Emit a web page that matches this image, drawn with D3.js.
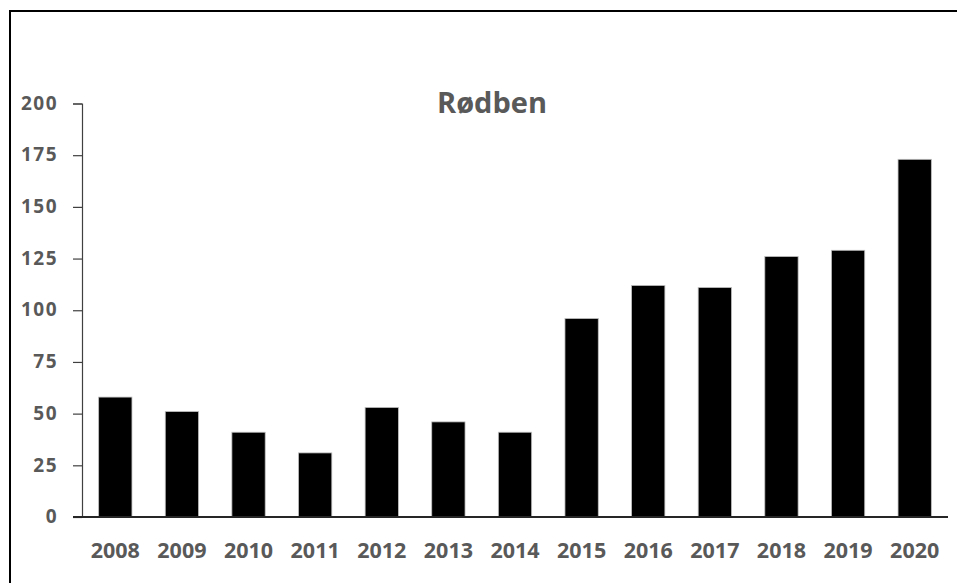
<!DOCTYPE html>
<html>
<head>
<meta charset="utf-8">
<script src="https://cdn.jsdelivr.net/npm/d3@7"></script>
<style>
  html, body { margin: 0; padding: 0; background: #fff; }
  svg { display: block; }
  text { font-family: "Open Sans", "Liberation Sans", sans-serif; font-weight: 700; fill: #595959; }
</style>
</head>
<body>
<svg id="chart" width="957" height="583"></svg>
<script>
// Annual counts of Rødben (common redshank)
const years = ["2008","2009","2010","2011","2012","2013","2014","2015","2016","2017","2018","2019","2020"];
const counts = [58, 51, 41, 31, 53, 46, 41, 96, 112, 111, 126, 129, 173];
const yTicks = [0, 25, 50, 75, 100, 125, 150, 175, 200];
const title = "Rødben";

const svg = d3.select("#chart");
const W = 957, H = 583;
const margin = { left: 82, right: 9, top: 103.5, bottom: 66 };

// Outer frame of the chart box
svg.append("rect")
  .attr("x", 10).attr("y", 11)
  .attr("width", W).attr("height", H)
  .attr("fill", "none")
  .attr("stroke", "#000")
  .attr("stroke-width", 2);

const x = d3.scaleBand()
  .domain(years)
  .range([margin.left, W - margin.right])
  .paddingInner(0.5)
  .paddingOuter(0.25);

const y = d3.scaleLinear()
  .domain([0, 200])
  .range([H - margin.bottom, margin.top]);

// Bars
svg.append("g")
  .selectAll("rect")
  .data(years.map((yr, i) => ({ yr, v: counts[i] })))
  .join("rect")
  .attr("x", d => x(d.yr))
  .attr("y", d => y(d.v))
  .attr("width", x.bandwidth())
  .attr("height", d => y(0) - y(d.v))
  .attr("fill", "#000")
  .attr("stroke", "#bfbfbf")
  .attr("stroke-width", 0.8);

// Y axis
const yAxis = svg.append("g")
  .attr("transform", `translate(${margin.left},0)`)
  .call(d3.axisLeft(y).tickValues(yTicks).tickSize(9).tickPadding(15));
yAxis.select(".domain").attr("stroke", "#404040").attr("stroke-width", 1.2);
yAxis.selectAll(".tick line").attr("stroke", "#404040").attr("stroke-width", 1.2);
yAxis.selectAll(".tick text")
  .attr("font-size", 19)
  .attr("letter-spacing", "1.5px")
  .attr("dy", "0.3em")
  .attr("fill", "#595959");

// X axis
const xAxis = svg.append("g")
  .attr("transform", `translate(0,${y(0)})`)
  .call(d3.axisBottom(x).tickSize(0).tickPadding(26));
xAxis.select(".domain")
  .attr("d", `M${margin.left - 9},0H${W - margin.right}`)
  .attr("stroke", "#262626").attr("stroke-width", 2.2);
xAxis.selectAll(".tick text")
  .attr("font-size", 21.5)
  .attr("fill", "#595959");

// Title
svg.append("text")
  .attr("x", 492)
  .attr("y", 113)
  .attr("text-anchor", "middle")
  .attr("font-size", 29)
  .text(title);
</script>
</body>
</html>
